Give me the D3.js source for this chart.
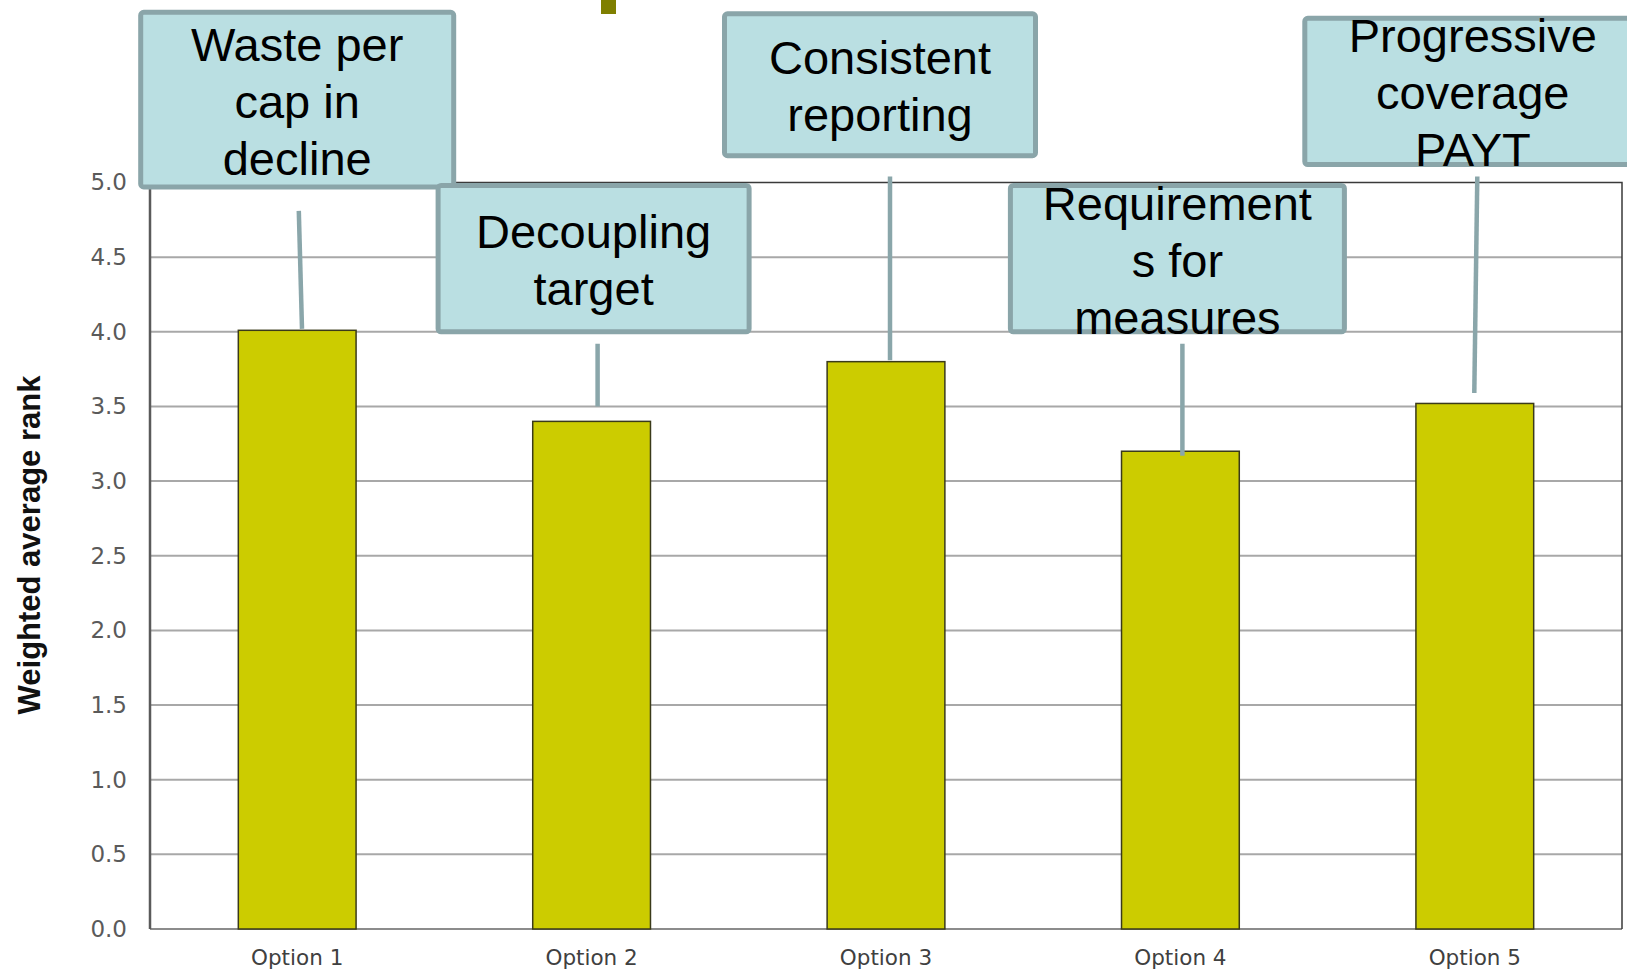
<!DOCTYPE html>
<html><head><meta charset="utf-8">
<script src="https://cdn.jsdelivr.net/npm/d3@7"></script>
<style>body{margin:0;background:#fff}svg{display:block}</style>
</head><body><svg id="c" width="1627" height="969"></svg>
<script>
// ---- data ----
const categories = ["Option 1", "Option 2", "Option 3", "Option 4", "Option 5"];
const values = [4.01, 3.40, 3.80, 3.20, 3.52];
const yTicks = [0, 0.5, 1, 1.5, 2, 2.5, 3, 3.5, 4, 4.5, 5];
const yTitle = "Weighted average rank";
const calloutTexts = [
  ["Waste per", "cap in", "decline"],
  ["Decoupling", "target"],
  ["Consistent", "reporting"],
  ["Requirement", "s for", "measures"],
  ["Progressive", "coverage", "PAYT"]
];
// ---- callout layout (value units for vertical placement) ----
const boxTopV = [6.14, 4.98, 6.13, 4.98, 6.10];
const boxBottomV = [4.97, 4.0, 5.18, 4.0, 5.12];
const leaderTopV = [4.81, 3.92, 5.04, 3.92, 5.04];
const leaderBottomV = [4.02, 3.50, 3.81, 3.17, 3.59];
const boxW = [313, 311, 311, 334, 336];
const boxDx = [0, 2, -6, -3, -2];
const leaderDxTop = [1.6, 6, 4, 2, 2.5];
const leaderDxBottom = [4.8, 6, 4, 2, -0.5];

const svg = d3.select("#c");
const X0 = 150, X1 = 1622;
const x = d3.scaleBand().domain(categories).range([X0, X1]).paddingInner(0.6).paddingOuter(0.3);
const y = d3.scaleLinear().domain([0, 5]).range([929, 182.5]);

// decorative fragment at top
svg.append("rect").attr("x", 601).attr("y", 0).attr("width", 15).attr("height", 14).attr("fill", "#7f7f00");

// gridlines
svg.append("g").selectAll("line").data(yTicks.filter(d => d > 0 && d < 5)).join("line")
  .attr("x1", X0).attr("x2", X1).attr("y1", d => y(d)).attr("y2", d => y(d))
  .attr("stroke", "#a8a8a8").attr("stroke-width", 2);

// bottom axis line
svg.append("line").attr("x1", X0).attr("x2", X1).attr("y1", y(0)).attr("y2", y(0))
  .attr("stroke", "#8c8c8c").attr("stroke-width", 2);

// bars
svg.append("g").selectAll("rect").data(values).join("rect")
  .attr("x", (d, i) => x(categories[i]))
  .attr("y", d => y(d))
  .attr("width", x.bandwidth())
  .attr("height", d => y(0) - y(d))
  .attr("fill", "#cccc00").attr("stroke", "#3a3a1a").attr("stroke-width", 1.5);

// plot frame top/right
svg.append("path")
  .attr("d", `M${X0},${y(5)}H${X1}V${y(0)}`)
  .attr("fill", "none").attr("stroke", "#3a3a3a").attr("stroke-width", 1.5);
// left axis line
svg.append("line").attr("x1", X0).attr("x2", X0).attr("y1", y(5)).attr("y2", y(0))
  .attr("stroke", "#5a5a5a").attr("stroke-width", 2.5);

// y axis labels
const ya = svg.append("g").attr("transform", `translate(${X0},0)`)
  .call(d3.axisLeft(y).tickValues(yTicks).tickFormat(d3.format(".1f")).tickSize(0).tickPadding(23));
ya.select(".domain").remove();
ya.selectAll("text").attr("font-family", "DejaVu Sans").attr("font-size", 23).attr("fill", "#5a5a5a");

// x labels
svg.append("g").selectAll("text").data(categories).join("text")
  .attr("x", d => x(d) + x.bandwidth() / 2).attr("y", 965)
  .attr("text-anchor", "middle").attr("font-family", "DejaVu Sans").attr("font-size", 21.5)
  .attr("fill", "#404040").text(d => d);

// y title
svg.append("text").attr("transform", `translate(40,545) rotate(-90)`)
  .attr("text-anchor", "middle").attr("font-family", "Liberation Sans").attr("font-weight", "bold")
  .attr("font-size", 31).attr("fill", "#111").text(yTitle);

// leader lines
svg.append("g").selectAll("line").data(categories).join("line")
  .attr("x1", (d, i) => x(d) + x.bandwidth() / 2 + leaderDxTop[i])
  .attr("x2", (d, i) => x(d) + x.bandwidth() / 2 + leaderDxBottom[i])
  .attr("y1", (d, i) => y(leaderTopV[i]))
  .attr("y2", (d, i) => y(leaderBottomV[i]))
  .attr("stroke", "#8aa6aa").attr("stroke-width", 4.5);

// callout boxes
const cg = svg.append("g").selectAll("g").data(categories).join("g");
cg.append("rect")
  .attr("x", (d, i) => x(d) + x.bandwidth() / 2 + boxDx[i] - boxW[i] / 2)
  .attr("y", (d, i) => y(boxTopV[i]))
  .attr("width", (d, i) => boxW[i])
  .attr("height", (d, i) => y(boxBottomV[i]) - y(boxTopV[i]))
  .attr("rx", 3)
  .attr("fill", "#badfe2").attr("stroke", "#8aa5a9").attr("stroke-width", 5);
cg.each(function (d, i) {
  const cx = x(d) + x.bandwidth() / 2 + boxDx[i];
  const cy = (y(boxTopV[i]) + y(boxBottomV[i])) / 2;
  const lines = calloutTexts[i];
  const lh = 57;
  const t = d3.select(this).append("text").attr("text-anchor", "middle")
    .attr("font-family", "Liberation Sans").attr("font-size", 47).attr("fill", "#000");
  lines.forEach((s, k) => {
    t.append("tspan").attr("x", cx).attr("y", cy + (k - (lines.length - 1) / 2) * lh + 18).text(s);
  });
});
</script></body></html>
